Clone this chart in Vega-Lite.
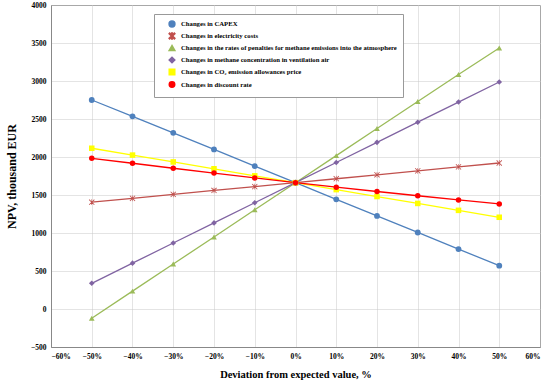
{
  "$schema": "https://vega.github.io/schema/vega-lite/v6.json",
  "width": 489,
  "height": 342,
  "autosize": {"type": "none"},
  "padding": {"left": 51, "top": 5, "right": 10, "bottom": 38},
  "background": "white",
  "config": {
    "font": "Liberation Serif",
    "view": {"stroke": "#888888", "strokeWidth": 1},
    "axis": {
      "labelFont": "Liberation Serif",
      "labelFontWeight": "bold",
      "labelFontSize": 7.5,
      "labelColor": "#000000",
      "titleFont": "Liberation Serif",
      "titleFontWeight": "bold",
      "titleColor": "#000000",
      "gridColor": "#c8c8c8",
      "gridDash": [1, 1],
      "gridWidth": 1,
      "domainColor": "#888888",
      "ticks": false,
      "labelPadding": 5
    }
  },
  "data": {
    "values": [
      {"series": "Changes in CAPEX", "dev": -0.5, "npv": 2750},
      {"series": "Changes in CAPEX", "dev": -0.4, "npv": 2535},
      {"series": "Changes in CAPEX", "dev": -0.3, "npv": 2318},
      {"series": "Changes in CAPEX", "dev": -0.2, "npv": 2100},
      {"series": "Changes in CAPEX", "dev": -0.1, "npv": 1880},
      {"series": "Changes in CAPEX", "dev": 0.0, "npv": 1662},
      {"series": "Changes in CAPEX", "dev": 0.1, "npv": 1443},
      {"series": "Changes in CAPEX", "dev": 0.2, "npv": 1225},
      {"series": "Changes in CAPEX", "dev": 0.3, "npv": 1007},
      {"series": "Changes in CAPEX", "dev": 0.4, "npv": 788},
      {"series": "Changes in CAPEX", "dev": 0.5, "npv": 570},
      {"series": "Changes in electricity costs", "dev": -0.5, "npv": 1405},
      {"series": "Changes in electricity costs", "dev": -0.4, "npv": 1456},
      {"series": "Changes in electricity costs", "dev": -0.3, "npv": 1508},
      {"series": "Changes in electricity costs", "dev": -0.2, "npv": 1560},
      {"series": "Changes in electricity costs", "dev": -0.1, "npv": 1610},
      {"series": "Changes in electricity costs", "dev": 0.0, "npv": 1662},
      {"series": "Changes in electricity costs", "dev": 0.1, "npv": 1714},
      {"series": "Changes in electricity costs", "dev": 0.2, "npv": 1766},
      {"series": "Changes in electricity costs", "dev": 0.3, "npv": 1818},
      {"series": "Changes in electricity costs", "dev": 0.4, "npv": 1870},
      {"series": "Changes in electricity costs", "dev": 0.5, "npv": 1921},
      {"series": "Changes in the rates of penalties for methane emissions into the atmosphere", "dev": -0.5, "npv": -122},
      {"series": "Changes in the rates of penalties for methane emissions into the atmosphere", "dev": -0.4, "npv": 235},
      {"series": "Changes in the rates of penalties for methane emissions into the atmosphere", "dev": -0.3, "npv": 592},
      {"series": "Changes in the rates of penalties for methane emissions into the atmosphere", "dev": -0.2, "npv": 948},
      {"series": "Changes in the rates of penalties for methane emissions into the atmosphere", "dev": -0.1, "npv": 1305},
      {"series": "Changes in the rates of penalties for methane emissions into the atmosphere", "dev": 0.0, "npv": 1662},
      {"series": "Changes in the rates of penalties for methane emissions into the atmosphere", "dev": 0.1, "npv": 2018},
      {"series": "Changes in the rates of penalties for methane emissions into the atmosphere", "dev": 0.2, "npv": 2375},
      {"series": "Changes in the rates of penalties for methane emissions into the atmosphere", "dev": 0.3, "npv": 2730},
      {"series": "Changes in the rates of penalties for methane emissions into the atmosphere", "dev": 0.4, "npv": 3085},
      {"series": "Changes in the rates of penalties for methane emissions into the atmosphere", "dev": 0.5, "npv": 3435},
      {"series": "Changes in methane concentration in ventilation air", "dev": -0.5, "npv": 338},
      {"series": "Changes in methane concentration in ventilation air", "dev": -0.4, "npv": 603},
      {"series": "Changes in methane concentration in ventilation air", "dev": -0.3, "npv": 868},
      {"series": "Changes in methane concentration in ventilation air", "dev": -0.2, "npv": 1133},
      {"series": "Changes in methane concentration in ventilation air", "dev": -0.1, "npv": 1398},
      {"series": "Changes in methane concentration in ventilation air", "dev": 0.0, "npv": 1662},
      {"series": "Changes in methane concentration in ventilation air", "dev": 0.1, "npv": 1928},
      {"series": "Changes in methane concentration in ventilation air", "dev": 0.2, "npv": 2193},
      {"series": "Changes in methane concentration in ventilation air", "dev": 0.3, "npv": 2458},
      {"series": "Changes in methane concentration in ventilation air", "dev": 0.4, "npv": 2723},
      {"series": "Changes in methane concentration in ventilation air", "dev": 0.5, "npv": 2987},
      {"series": "Changes in CO₂ emission allowances price", "dev": -0.5, "npv": 2115},
      {"series": "Changes in CO₂ emission allowances price", "dev": -0.4, "npv": 2025},
      {"series": "Changes in CO₂ emission allowances price", "dev": -0.3, "npv": 1935},
      {"series": "Changes in CO₂ emission allowances price", "dev": -0.2, "npv": 1845},
      {"series": "Changes in CO₂ emission allowances price", "dev": -0.1, "npv": 1752},
      {"series": "Changes in CO₂ emission allowances price", "dev": 0.0, "npv": 1662},
      {"series": "Changes in CO₂ emission allowances price", "dev": 0.1, "npv": 1571},
      {"series": "Changes in CO₂ emission allowances price", "dev": 0.2, "npv": 1480},
      {"series": "Changes in CO₂ emission allowances price", "dev": 0.3, "npv": 1389},
      {"series": "Changes in CO₂ emission allowances price", "dev": 0.4, "npv": 1298},
      {"series": "Changes in CO₂ emission allowances price", "dev": 0.5, "npv": 1207},
      {"series": "Changes in discount rate", "dev": -0.5, "npv": 1983},
      {"series": "Changes in discount rate", "dev": -0.4, "npv": 1918},
      {"series": "Changes in discount rate", "dev": -0.3, "npv": 1852},
      {"series": "Changes in discount rate", "dev": -0.2, "npv": 1788},
      {"series": "Changes in discount rate", "dev": -0.1, "npv": 1724},
      {"series": "Changes in discount rate", "dev": 0.0, "npv": 1662},
      {"series": "Changes in discount rate", "dev": 0.1, "npv": 1603},
      {"series": "Changes in discount rate", "dev": 0.2, "npv": 1546},
      {"series": "Changes in discount rate", "dev": 0.3, "npv": 1490},
      {"series": "Changes in discount rate", "dev": 0.4, "npv": 1435},
      {"series": "Changes in discount rate", "dev": 0.5, "npv": 1382}
    ]
  },
  "encoding": {
    "x": {
      "field": "dev",
      "type": "quantitative",
      "scale": {"domain": [-0.6, 0.6], "nice": false, "zero": false},
      "axis": {
        "values": [-0.6, -0.5, -0.4, -0.3, -0.2, -0.1, 0, 0.1, 0.2, 0.3, 0.4, 0.5, 0.6],
        "format": ".0%",
        "title": "Deviation from expected value, %",
        "titleFontSize": 10.5,
        "titlePadding": 10
      }
    },
    "y": {
      "field": "npv",
      "type": "quantitative",
      "scale": {"domain": [-500, 4000], "nice": false, "zero": false},
      "axis": {
        "values": [-500, 0, 500, 1000, 1500, 2000, 2500, 3000, 3500, 4000],
        "format": "d",
        "title": "NPV, thousand EUR",
        "titleFontSize": 12,
        "titlePadding": 12
      }
    },
    "color": {
      "field": "series",
      "type": "nominal",
      "sort": null,
      "scale": {
        "domain": [
          "Changes in CAPEX",
          "Changes in electricity costs",
          "Changes in the rates of penalties for methane emissions into the atmosphere",
          "Changes in methane concentration in ventilation air",
          "Changes in CO₂ emission allowances price",
          "Changes in discount rate"
        ],
        "range": ["#4F81BD", "#C0504D", "#9BBB59", "#8064A2", "#FFFF00", "#FF0000"]
      },
      "legend": {
        "title": null,
        "orient": "none",
        "legendX": 103,
        "legendY": 9,
        "direction": "vertical",
        "strokeColor": "#999999",
        "fillColor": "white",
        "padding": 6,
        "rowPadding": 0,
        "labelFont": "Liberation Serif",
        "labelFontWeight": "bold",
        "labelFontSize": 6.7,
        "labelColor": "#000000",
        "labelLimit": 400,
        "symbolSize": 14,
        "symbolOffset": 8,
        "labelOffset": 5
      }
    }
  },
  "layer": [
    {
      "mark": {"type": "line", "strokeWidth": 1.3},
      "encoding": {"detail": {"field": "series"}}
    },
    {
      "mark": {"type": "point", "filled": true, "opacity": 1},
      "encoding": {
        "shape": {
          "field": "series",
          "type": "nominal",
          "sort": null,
          "scale": {
            "domain": [
              "Changes in CAPEX",
              "Changes in electricity costs",
              "Changes in the rates of penalties for methane emissions into the atmosphere",
              "Changes in methane concentration in ventilation air",
              "Changes in CO₂ emission allowances price",
              "Changes in discount rate"
            ],
            "range": ["circle", "M-1,-0.8L-0.8,-1L0,-0.2L0.8,-1L1,-0.8L0.2,0L1,0.8L0.8,1L0,0.2L-0.8,1L-1,0.8L-0.2,0ZM-0.1,-1L0.1,-1L0.1,1L-0.1,1Z", "triangle-up", "diamond", "square", "circle"]
          },
          "legend": {
            "title": null,
            "orient": "none",
            "legendX": 103,
            "legendY": 9
          }
        },
        "size": {
          "field": "series",
          "type": "nominal",
          "sort": null,
          "scale": {
            "domain": [
              "Changes in CAPEX",
              "Changes in electricity costs",
              "Changes in the rates of penalties for methane emissions into the atmosphere",
              "Changes in methane concentration in ventilation air",
              "Changes in CO₂ emission allowances price",
              "Changes in discount rate"
            ],
            "range": [34, 30, 70, 22, 36, 22]
          },
          "legend": null
        }
      }
    }
  ]
}
